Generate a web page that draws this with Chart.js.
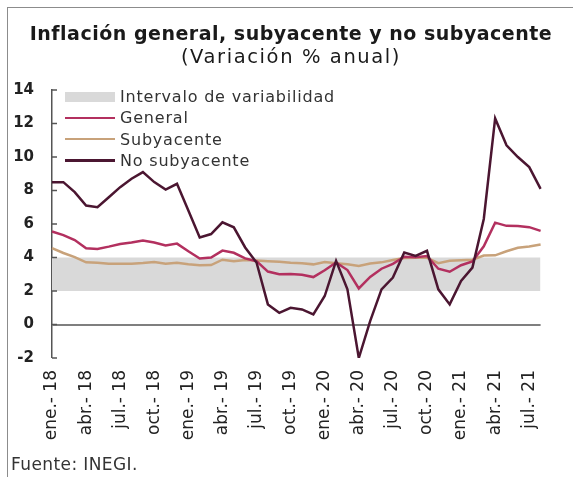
<!DOCTYPE html>
<html><head><meta charset="utf-8">
<script src="https://cdn.jsdelivr.net/npm/chart.js@4.4.1/dist/chart.umd.min.js"></script>
<style>
html,body{margin:0;padding:0;background:#fff;}
#wrap{position:relative;width:573px;height:477px;overflow:hidden;font-family:'DejaVu Sans';}
#frame{position:absolute;left:7px;top:7px;width:620px;height:520px;border-left:1.5px solid #8c8c8c;border-top:1.5px solid #8c8c8c;pointer-events:none;}
.ttl{position:absolute;left:0;width:582px;text-align:center;white-space:nowrap;color:#1a1a1a;line-height:20px;}
#title{top:22.5px;font-size:19px;font-weight:bold;letter-spacing:0.5px;}
#subtitle{top:47px;font-size:19.5px;letter-spacing:1.6px;}
#legend{position:absolute;left:65px;top:86px;font-size:16px;color:#333;letter-spacing:0.8px;}
.item{height:21.3px;display:flex;align-items:center;white-space:nowrap;}
.sw{width:50px;margin-right:5px;}
#src{position:absolute;left:11px;top:454px;font-size:17px;letter-spacing:0.4px;color:#333;}
</style></head>
<body><div id="wrap"><canvas id="c" width="573" height="477"></canvas><div id="frame"></div>
<div id="title" class="ttl"></div><div id="subtitle" class="ttl"></div>
<div id="legend"></div><div id="src"></div></div>
<script>
const titleText = 'Inflación general, subyacente y no subyacente';
const subtitleText = '(Variación % anual)';
const sourceText = 'Fuente: INEGI.';
const categories = [
 'ene.- 18','feb.- 18','mar.- 18','abr.- 18','may.- 18','jun.- 18','jul.- 18','ago.- 18','sep.- 18','oct.- 18','nov.- 18','dic.- 18',
 'ene.- 19','feb.- 19','mar.- 19','abr.- 19','may.- 19','jun.- 19','jul.- 19','ago.- 19','sep.- 19','oct.- 19','nov.- 19','dic.- 19',
 'ene.- 20','feb.- 20','mar.- 20','abr.- 20','may.- 20','jun.- 20','jul.- 20','ago.- 20','sep.- 20','oct.- 20','nov.- 20','dic.- 20',
 'ene.- 21','feb.- 21','mar.- 21','abr.- 21','may.- 21','jun.- 21','jul.- 21','ago.- 21'
];
const general = [5.55,5.34,5.04,4.55,4.51,4.65,4.81,4.90,5.02,4.90,4.72,4.83,
 4.37,3.94,4.00,4.41,4.28,3.95,3.78,3.16,3.00,3.02,2.97,2.83,
 3.24,3.70,3.25,2.15,2.84,3.33,3.62,4.05,4.01,4.09,3.33,3.15,
 3.54,3.76,4.67,6.08,5.89,5.88,5.81,5.59];
const subyacente = [4.56,4.27,4.02,3.71,3.69,3.62,3.63,3.63,3.67,3.73,3.63,3.68,
 3.60,3.54,3.55,3.87,3.77,3.85,3.82,3.78,3.75,3.68,3.65,3.59,
 3.73,3.66,3.60,3.50,3.64,3.71,3.85,3.97,3.99,3.98,3.66,3.80,
 3.84,3.87,4.12,4.13,4.37,4.58,4.66,4.78];
const noSubyacente = [8.5,8.5,7.9,7.1,7.0,7.6,8.2,8.7,9.1,8.5,8.05,8.4,
 6.8,5.2,5.4,6.1,5.8,4.6,3.7,1.2,0.7,1.0,0.9,0.6,
 1.7,3.8,2.1,-2.0,0.2,2.1,2.8,4.3,4.1,4.4,2.1,1.2,
 2.6,3.4,6.3,12.3,10.7,10.0,9.4,8.1];
const bandLow = 2, bandHigh = 4;
const yTicks = [-2,0,2,4,6,8,10,12,14];
const seriesNames = ['Intervalo de variabilidad','General','Subyacente','No subyacente'];
const colors = {band:'#d9d9d9', general:'#b3305f', sub:'#c8a27a', noSub:'#4b1631', zero:'#7f7f7f', axis:'#555'};
const FONT = 'DejaVu Sans';

document.getElementById('title').textContent = titleText;
document.getElementById('subtitle').textContent = subtitleText;
document.getElementById('src').textContent = sourceText;

const innerTicks = {
  id:'innerTicks',
  afterDraw(chart){
    const y = chart.scales.y, ctx = chart.ctx;
    ctx.save(); ctx.strokeStyle = colors.axis; ctx.lineWidth = 1.5;
    y.ticks.forEach(t => { const py = y.getPixelForValue(t.value);
      ctx.beginPath(); ctx.moveTo(y.right, py); ctx.lineTo(y.right + 5, py); ctx.stroke(); });
    ctx.restore();
  }
};

const datasets = [
  {label: seriesNames[3], data: noSubyacente, borderColor: colors.noSub, borderWidth: 2.5, pointRadius: 0, tension: 0, order: 1, fill: false},
  {label: seriesNames[1], data: general, borderColor: colors.general, borderWidth: 2.5, pointRadius: 0, tension: 0, order: 2, fill: false},
  {label: seriesNames[2], data: subyacente, borderColor: colors.sub, borderWidth: 2.5, pointRadius: 0, tension: 0, order: 3, fill: false},
  {label: seriesNames[0], data: [{x: categories[0], y: bandHigh}, {x: categories[categories.length-1], y: bandHigh}],
   borderWidth: 0, borderColor: 'rgba(0,0,0,0)', backgroundColor: colors.band, pointRadius: 0, order: 10, fill: {value: bandLow}}
];

new Chart(document.getElementById('c'), {
  type: 'line',
  data: {labels: categories, datasets},
  options: {
    responsive: false, animation: false,
    layout: {padding: {left: 0, right: 14, top: 90, bottom: 0}},
    plugins: {legend: {display: false}, tooltip: {enabled: false}},
    scales: {
      x: {
        offset: false,
        grid: {display: false, drawTicks: false},
        border: {display: false},
        ticks: {autoSkip: false, maxRotation: 90, minRotation: 90, padding: 12, color: '#222',
          font: {family: FONT, size: 17},
          callback: (v, i) => i % 3 === 0 ? categories[i] : ''},
        afterFit: s => { s.height = 119; }
      },
      y: {
        min: yTicks[0], max: yTicks[yTicks.length-1],
        afterBuildTicks: s => { s.ticks = yTicks.map(v => ({value: v})); },
        grid: {drawTicks: false, lineWidth: c => c.tick && c.tick.value === 0 ? 2 : 0,
               color: c => c.tick && c.tick.value === 0 ? colors.zero : 'rgba(0,0,0,0)'},
        border: {display: true, color: colors.axis, width: 1.5},
        ticks: {padding: 18, color: '#222', font: {family: FONT, size: 15, weight: 'bold'}},
        afterFit: s => { s.width = 52; }
      }
    }
  },
  plugins: [innerTicks]
});

const lg = document.getElementById('legend');
[datasets[3], datasets[1], datasets[2], datasets[0]].forEach(d => {
  const it = document.createElement('div'); it.className = 'item';
  const sw = document.createElement('div'); sw.className = 'sw';
  if (d.fill && d.fill.value !== undefined) { sw.style.height = '10px'; sw.style.background = d.backgroundColor; }
  else { sw.style.height = '2.5px'; sw.style.background = d.borderColor; }
  const tx = document.createElement('span'); tx.textContent = d.label;
  it.appendChild(sw); it.appendChild(tx); lg.appendChild(it);
});
</script>
</body></html>
